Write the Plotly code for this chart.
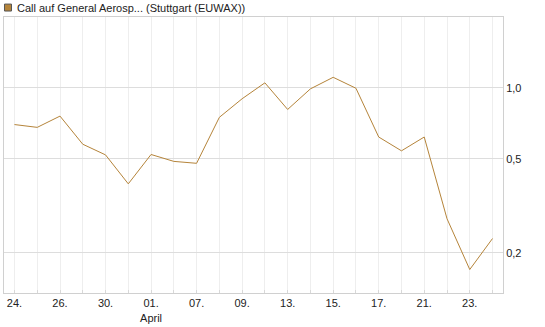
import plotly.graph_objects as go

dates = ["24.", "25.", "26.", "27.", "30.", "31.", "01.", "02.", "07.", "08.", "09.", "10.",
         "13.", "14.", "15.", "16.", "17.", "20.", "21.", "22.", "23.", "24."]
values = [0.699, 0.680, 0.759, 0.577, 0.520, 0.392, 0.522, 0.488, 0.479, 0.750, 0.899, 1.050,
          0.810, 0.990, 1.108, 0.996, 0.619, 0.541, 0.619, 0.279, 0.170, 0.230]
ytick_vals = [0.2, 0.5, 1.0]
ytick_text = ["0,2", "0,5", "1,0"]
series_name = "Call auf General Aerosp... (Stuttgart (EUWAX))"

idx = list(range(len(dates)))
ticktext = []
for i, d in enumerate(dates):
    if i % 2 == 0:
        ticktext.append(d + ("<br>April" if d == "01." else ""))
    else:
        ticktext.append("")

line_color = "#B5843A"

fig = go.Figure()
fig.add_trace(go.Scatter(x=idx, y=values, mode="lines",
                         line=dict(color=line_color, width=1), name=series_name,
                         hoverinfo="skip"))

fig.update_layout(
    width=545, height=327,
    margin=dict(l=3, r=42, t=17, b=32),
    paper_bgcolor="white", plot_bgcolor="white",
    showlegend=False,
    font=dict(family="Liberation Sans, Arial, sans-serif", size=11, color="#222"),
    xaxis=dict(range=[-0.46, 21.46], tickmode="array", tickvals=idx, ticktext=ticktext,
               showgrid=True, gridcolor="#EEEEEE", gridwidth=1,
               showline=True, linecolor="#D0D0D0", linewidth=1, mirror=True,
               ticks="inside", ticklen=3, tickcolor="#D8D8D8",
               zeroline=False, tickfont=dict(size=11, color="#222")),
    yaxis=dict(type="log", range=[-0.869, 0.300], side="right",
               tickmode="array", tickvals=ytick_vals, ticktext=ytick_text,
               showgrid=True, gridcolor="#DDDDDD", gridwidth=1,
               showline=True, linecolor="#D0D0D0", linewidth=1, mirror=True,
               ticks="", zeroline=False, tickfont=dict(size=11, color="#222")),
)

fig.add_shape(type="rect", xref="paper", yref="paper", x0=0, x1=0, y0=0, y1=0,
              line=dict(width=0))
# legend marker square (pixel-placed in paper coords)
plot_w = 545 - 3 - 42
plot_h = 327 - 17 - 32
def px_to_paper_x(px):
    return (px - 3) / plot_w
def px_to_paper_y(py):
    return (327 - 32 - py) / plot_h

fig.add_shape(type="rect", xref="paper", yref="paper",
              x0=px_to_paper_x(3.5), x1=px_to_paper_x(10.5),
              y0=px_to_paper_y(11), y1=px_to_paper_y(4),
              fillcolor=line_color, line=dict(color="#555", width=1))
fig.add_annotation(xref="paper", yref="paper", x=px_to_paper_x(14), y=px_to_paper_y(7.5),
                   text=series_name, showarrow=False, xanchor="left", yanchor="middle",
                   font=dict(size=11, color="#222"))

fig.write_html("out.html")
